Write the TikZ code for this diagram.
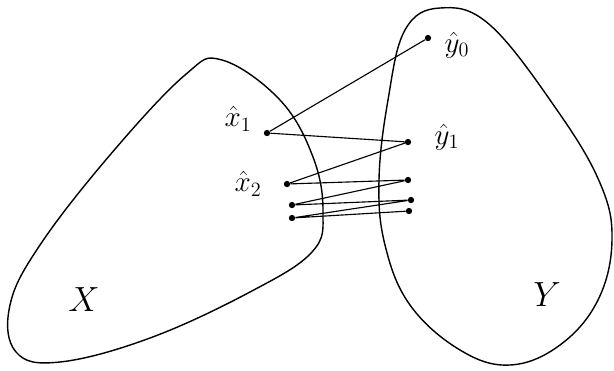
\documentclass[tikz,border=0pt]{standalone}
\usepackage{amsmath,amssymb}
\usetikzlibrary{calc,positioning}

\begin{document}
\begin{tikzpicture}[x=0.025cm, y=-0.025cm,
		pt/.style={circle, fill=black, inner sep=0pt, minimum size=4.5pt},
		lbl/.style={font=\fontsize{21}{24}\selectfont},
		setname/.style={font=\fontsize{26}{30}\selectfont}]
		\useasboundingbox (0,0) rectangle (614,370);
		
		% the two sets
		\draw[line width=1pt] plot[smooth cycle, tension=0.65] coordinates {
			(222,60) (280,100) (313,157) (323,212) (312,252) (250,292)
			(150,338) (60,362) (16,352) (10,305) (40,245) (110,155) (185,75)};
		\draw[line width=1pt] plot[smooth cycle, tension=0.65] coordinates {
			(440,8) (490,25) (557,110) (600,183) (612,240) (598,300)
			(560,345) (510,365) (460,350) (410,305) (385,245) (379,180)
			(388,100) (405,30)};
		
		\node[setname] (X) at (84,300) {$X$};
		\node[setname] (Y) at (547,295) {$Y$};
		
		% the sequence
		\node[pt] (y0) at (428,38) {};
		\node[pt] (x1) at (267,133) {};
		\node[pt] (y1) at (408,142) {};
		\node[pt] (x2) at (287,184) {};
		\node[pt] (y2) at (408,180) {};
		\node[pt] (x3) at (292,205) {};
		\node[pt] (y3) at (411,200) {};
		\node[pt] (x4) at (292,218) {};
		\node[pt] (y4) at (409,211) {};
		
		\draw[line width=0.8pt] (y0) -- (x1) -- (y1) -- (x2) -- (y2) -- (x3) -- (y3) -- (x4) -- (y4);
		
		\node[lbl] (ly0) at (457,45) {$\hat{y}_0$};
		\node[lbl] (lx1) at (238,119) {$\hat{x}_1$};
		\node[lbl] (ly1) at (447,137) {$\hat{y}_1$};
		\node[lbl] (lx2) at (248,184) {$\hat{x}_2$};
	\end{tikzpicture}
\end{document}
